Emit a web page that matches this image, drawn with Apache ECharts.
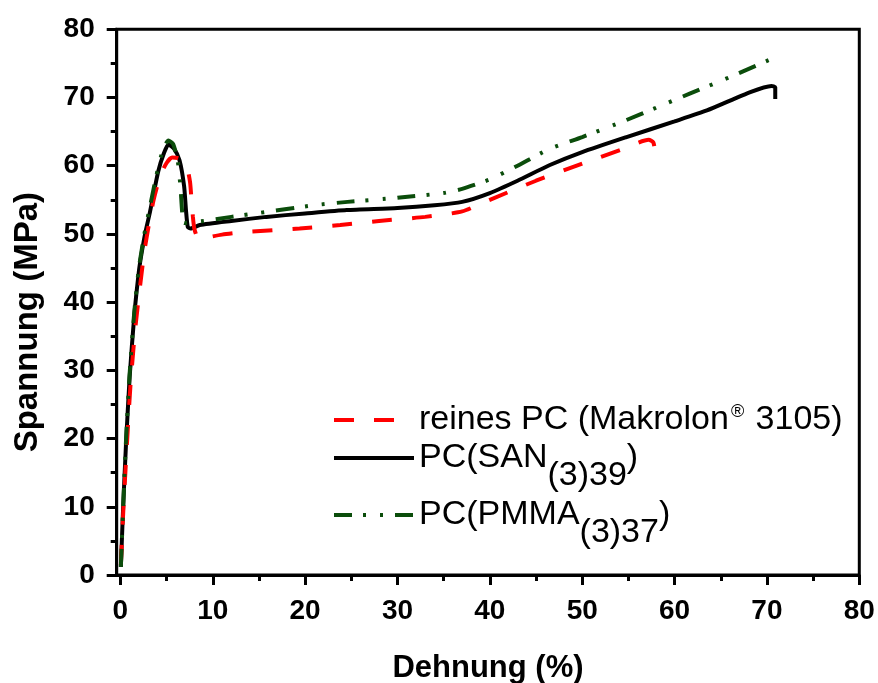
<!DOCTYPE html>
<html>
<head>
<meta charset="utf-8">
<script src="https://cdn.jsdelivr.net/npm/echarts@6/dist/echarts.min.js"></script>
<style>html,body{margin:0;padding:0;background:#fff}#c{width:878px;height:683px}</style>
</head>
<body>
<div id="c"></div>
<script>
// ---- data ----
const xTickValues = [0, 10, 20, 30, 40, 50, 60, 70, 80];
const xMinorValues = [5, 15, 25, 35, 45, 55, 65, 75];
const seriesNames = ['reines PC (Makrolon® 3105)', 'PC(SAN(3)39)', 'PC(PMMA(3)37)'];

const pcStrain = [0.05,0.3,0.7,1.1,1.6,2.1,2.6,3.1,3.6,4.3,5.0,5.6,6.3,6.9,7.3,7.55,7.7,7.85,8.0,8.3,8.8,9.5,11,13.7,19.4,23.8,28,33,37,40,45,50,54.1,57.2,57.7,57.9];
const pcStress = [1.5,9,19,28,36,42,47.5,51.5,55,58.5,60.4,61.2,61.1,60.3,59.3,57.5,55,52.5,50.8,49.6,49.2,49.5,49.9,50.3,50.8,51.3,51.9,52.5,53.3,55,57.8,60.3,62.3,63.8,63.4,62];

const sanStrain = [0.05,0.3,0.6,1.0,1.5,2.0,2.3,2.7,3.2,4.1,4.7,5.2,5.8,6.4,6.9,7.1,7.3,7.6,8.6,12,15.8,20,24.5,30,34,37,40,43,46.5,50,54.8,60,63.5,68.2,70.5,70.9,70.9];
const sanStress = [1.2,10,19,29,38,44.5,47.2,50.2,53.2,59.2,61.8,63.1,62.5,60.8,57,53.5,51,50.8,51.3,51.9,52.5,53,53.5,53.8,54.2,54.7,56,57.8,60.1,62,64.2,66.5,68.1,70.8,71.7,71.5,69.8];

const pmmaStrain = [0.05,0.3,0.6,1.0,1.5,2.0,2.6,3.2,4.0,4.6,5.2,5.7,6.2,6.5,6.7,6.9,7.5,9,12,15.1,20.9,24.6,30,35,37,40,43,46.5,50,54.8,58,61.7,66,70.9];
const pmmaStress = [1.2,10,19.5,29.5,38.5,45,50,54,59.2,62.3,63.7,63.2,60.8,57,53,51.6,51.7,51.9,52.5,53.1,54.2,54.7,55.3,56,56.6,58,60,62.5,64.2,66.7,68.5,70.6,73,75.9];

function pairs(xs, ys) { return xs.map((x, i) => [x, ys[i]]); }

const chart = echarts.init(document.getElementById('c'), null, {renderer: 'canvas'});
const axisFont = {fontFamily: 'Liberation Sans', fontWeight: 'bold', fontSize: 28, color: '#000'};
const legFont = 'Liberation Sans';
const LF = 34;

function legendBox(name, top, rich, fmt) {
  return {
    show: true, data: [name], left: 332, top: top, padding: 0,
    itemWidth: 80, itemHeight: 14, itemGap: 0,
    formatter: fmt,
    itemStyle: {opacity: 0},
    lineStyle: {width: 4},
    textStyle: {fontFamily: legFont, fontSize: LF, color: '#000', rich: rich}
  };
}
const mainStyle = {fontFamily: legFont, fontSize: LF, color: '#000', verticalAlign: 'middle'};
const subStyle = {fontFamily: legFont, fontSize: LF, color: '#000', padding: [36, 0, 0, 0], verticalAlign: 'bottom'};
const supStyle = {fontFamily: legFont, fontSize: 18, color: '#000', lineHeight: 20, padding: [0, 2, 16, 2], verticalAlign: 'middle'};

const option = {
  backgroundColor: '#fff',
  animation: false,
  grid: {left: 116.7, right: 18.7, top: 29.3, bottom: 108, show: true, borderColor: '#000', borderWidth: 3,
         backgroundColor: 'transparent', outerBoundsMode: 'none', containLabel: false},
  legend: [
    legendBox(seriesNames[0], 403, {m: mainStyle, sup: supStyle}, () => '{m|reines PC (Makrolon}{sup|®}{m| 3105)}'),
    legendBox(seriesNames[1], 441, {m: mainStyle, sub: subStyle}, () => '{m|PC(SAN}{sub|(3)39}{m|)}'),
    legendBox(seriesNames[2], 498, {m: mainStyle, sub: subStyle}, () => '{m|PC(PMMA}{sub|(3)37}{m|)}')
  ],
  xAxis: [{
    type: 'value', min: -0.4, max: 80,
    name: 'Dehnung (%)', nameLocation: 'middle', nameGap: 78,
    nameTextStyle: {fontFamily: 'Liberation Sans', fontWeight: 'bold', fontSize: 31, color: '#000'},
    axisLine: {show: true, onZero: false, lineStyle: {color: '#000', width: 3}},
    axisTick: {show: true, inside: false, length: 10, lineStyle: {color: '#000', width: 3}, customValues: xTickValues},
    axisLabel: Object.assign({margin: 22, customValues: xTickValues}, axisFont),
    splitLine: {show: false}
  }, {
    type: 'value', min: -0.4, max: 80, position: 'bottom',
    axisLine: {show: false},
    axisTick: {show: true, inside: false, length: 6, lineStyle: {color: '#000', width: 3}, customValues: xMinorValues},
    axisLabel: {show: false},
    splitLine: {show: false}
  }],
  yAxis: {
    type: 'value', min: 0, max: 80, interval: 10,
    name: 'Spannung (MPa)', nameLocation: 'middle', nameGap: 72,
    nameTextStyle: {fontFamily: 'Liberation Sans', fontWeight: 'bold', fontSize: 33, color: '#000', padding: [0, 40, 0, 0]},
    axisLine: {show: true, onZero: false, lineStyle: {color: '#000', width: 3}},
    axisTick: {show: true, inside: false, length: 10, lineStyle: {color: '#000', width: 3}},
    minorTick: {show: true, splitNumber: 2, length: 6, lineStyle: {color: '#000', width: 3}},
    axisLabel: Object.assign({margin: 22}, axisFont),
    splitLine: {show: false}, minorSplitLine: {show: false}
  },
  series: [
    {name: seriesNames[0], type: 'line', data: pairs(pcStrain, pcStress), symbol: 'none', smooth: 0.2, xAxisIndex: 0,
     lineStyle: {color: '#ff0000', width: 4, type: [20, 20], cap: 'butt'}, itemStyle: {color: '#ff0000'}, z: 3},
    {name: seriesNames[1], type: 'line', data: pairs(sanStrain, sanStress), symbol: 'none', smooth: 0.2, xAxisIndex: 0,
     lineStyle: {color: '#000000', width: 4, type: 'solid'}, itemStyle: {color: '#000000'}, z: 2},
    {name: seriesNames[2], type: 'line', data: pairs(pmmaStrain, pmmaStress), symbol: 'none', smooth: 0.2, xAxisIndex: 0,
     lineStyle: {color: '#0b4d0b', width: 4, type: [18, 11, 3, 14, 3, 12], cap: 'butt'}, itemStyle: {color: '#0b4d0b'}, z: 4}
  ]
};
chart.setOption(option);
</script>
</body>
</html>
